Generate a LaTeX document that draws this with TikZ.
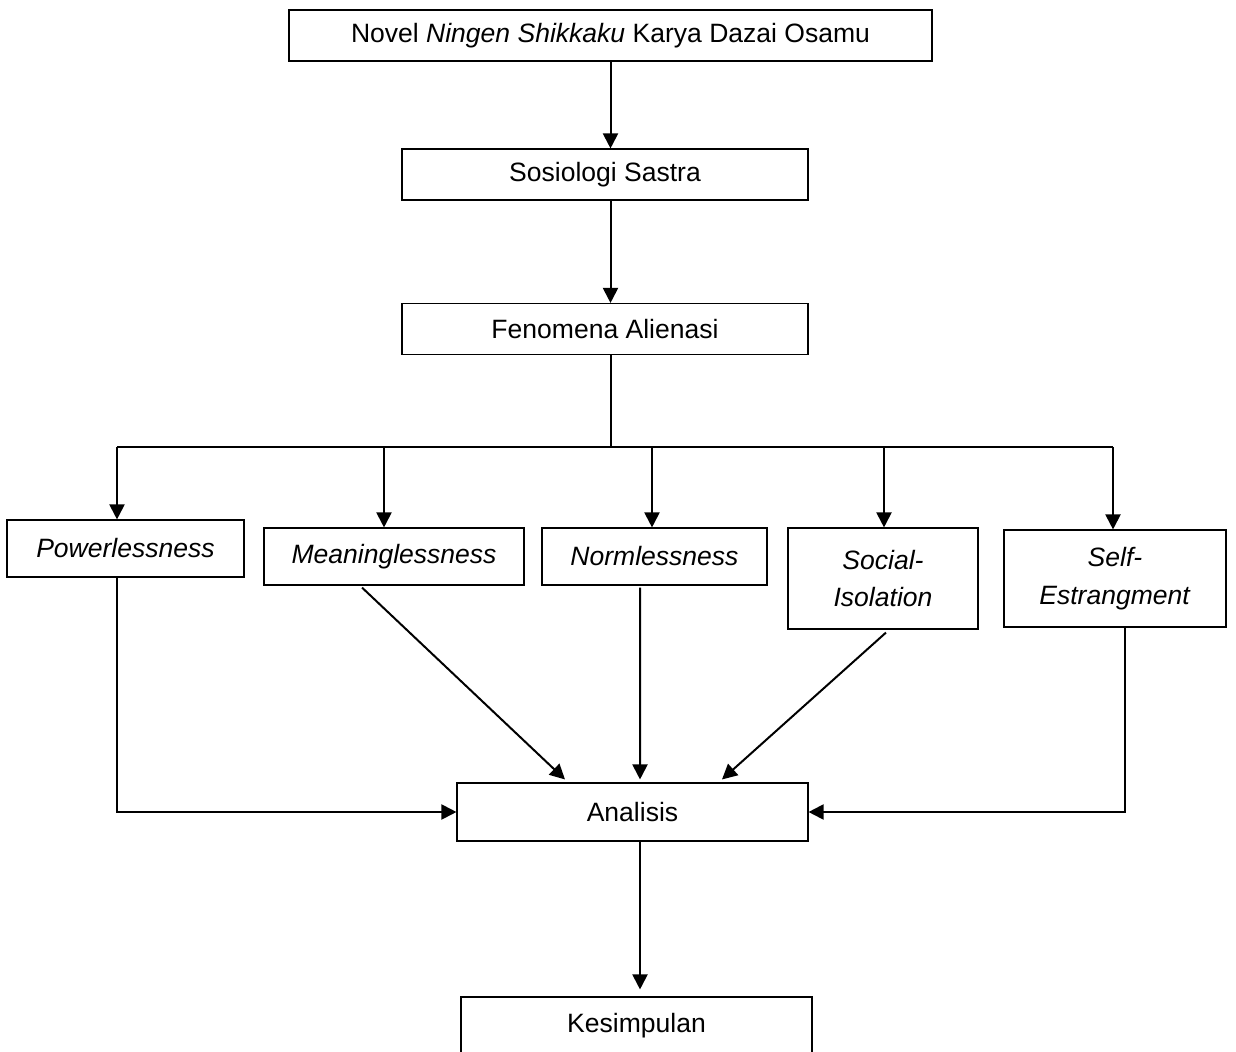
\documentclass[tikz,border=0pt]{standalone}
\usepackage{fontspec}
\setmainfont{Liberation Sans}
\usepackage{tikz}
\usetikzlibrary{arrows.meta, positioning, calc}
\newcommand{\pxu}{0.0159cm}

\begin{document}
\begin{tikzpicture}[
    x=\pxu, y=-\pxu,
    box/.style={draw, line width=0.5pt, inner sep=0pt, align=center, font=\fontsize{12}{17}\selectfont, minimum height=51*\pxu},
    arr/.style={-{Triangle[length=6.8pt, width=6.8pt]}, line width=0.9pt},
    link/.style={line width=0.9pt}
]
    \useasboundingbox (0,0) rectangle (1236,1052);
    \clip (0,0) rectangle (1236,1052);

    % Top chain
    \node[box, minimum width=643*\pxu] (novel) at (610.5,35.5) {Novel \textit{Ningen Shikkaku} Karya Dazai Osamu};
    \node[box, minimum width=406*\pxu] (sosio) at (605,174.5) {Sosiologi Sastra};
    \node[box, minimum width=406*\pxu] (feno) at (605,329) {Fenomena Alienasi};

    \draw[arr] (novel.south) -- (novel.south |- sosio.north);
    \draw[arr] (sosio.south -| novel.south) -- (feno.north -| novel.south);

    % Alienation aspects
    \node[box, minimum width=237*\pxu, minimum height=57*\pxu] (power) at (125.5,548.5) {\textit{Powerlessness}};
    \node[box, minimum width=260*\pxu, minimum height=57*\pxu] (meaning) at (394,556.5) {\textit{Meaninglessness}};
    \node[box, minimum width=225*\pxu, minimum height=57*\pxu] (norm) at (654.5,556.5) {\textit{Normlessness}};
    \node[box, minimum width=190*\pxu, minimum height=101*\pxu] (social) at (883,578.5) {\textit{Social-}\\\textit{Isolation}};
    \node[box, minimum width=222*\pxu, minimum height=97*\pxu] (self) at (1115,578.5) {\textit{Self-}\\\textit{Estrangment}};

    % Branching bus
    \coordinate (bus) at (610.5,447);
    \draw[link] (feno.south -| novel.south) -- (bus);
    \draw[link] ($(bus -| power.north)+(-8.5,0)$) -- ($(bus -| self.north)+(-2,0)$);
    \foreach \n/\dx in {power/-8.5, meaning/-10, norm/-2.5, social/1, self/-2}
        \draw[arr] ($(bus -| \n.north)+(\dx,0)$) -- ($(\n.north)+(\dx,0)$);

    % Analysis and conclusion
    \node[box, minimum width=351*\pxu, minimum height=58*\pxu] (ana) at (632.5,812) {Analisis};
    \node[box, minimum width=351*\pxu, minimum height=58*\pxu] (kes) at (636.5,1026) {Kesimpulan};

    \draw[arr] ($(power.south)+(-8.5,0)$) |- (ana.west);
    \draw[arr] ($(self.south)+(10,0)$) |- (ana.east);
    \draw[arr] ($(meaning.south)+(-32,2)$) -- ($(ana.north)+(-67.5,-3)$);
    \draw[arr] ($(norm.south)+(-14.5,2)$) -- ($(ana.north)+(7.5,-3)$);
    \draw[arr] ($(social.south)+(3,3)$) -- ($(ana.north)+(89.5,-3)$);
    \draw[arr] ($(ana.south)+(7.5,0)$) -- ($(kes.north)+(3.5,-7)$);
\end{tikzpicture}
\end{document}
